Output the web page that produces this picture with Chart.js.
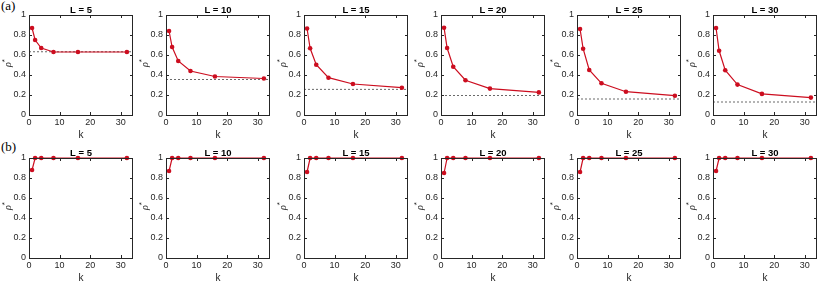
<!DOCTYPE html>
<html>
<head>
<meta charset="utf-8">
<script src="https://cdn.jsdelivr.net/npm/chart.js@4.4.1/dist/chart.umd.min.js"></script>
<style>
    body { margin: 0; background: #fff; width: 830px; height: 285px; position: relative; overflow: hidden; }
    canvas { position: absolute; }
    .tag { position: absolute; font-family: "Liberation Serif", "Times New Roman", serif; font-size: 13px; color: #000; }
</style>
</head>
<body>
<div class="tag" style="left:1px; top:-2px">(a)</div>
<div class="tag" style="left:1px; top:139px">(b)</div>
<script>
// k values on the x axis, one panel per L
const kValues = [1, 2, 4, 8, 16, 32];
const lValues = [5, 10, 15, 20, 25, 30];

// row (a): rho* against k, per L
const rhoL5  = [0.87, 0.75, 0.67, 0.63, 0.63, 0.63];
const rhoL10 = [0.84, 0.68, 0.54, 0.44, 0.385, 0.365];
const rhoL15 = [0.865, 0.667, 0.503, 0.373, 0.31, 0.273];
const rhoL20 = [0.873, 0.67, 0.483, 0.348, 0.264, 0.226];
const rhoL25 = [0.86, 0.663, 0.45, 0.317, 0.233, 0.193];
const rhoL30 = [0.87, 0.642, 0.448, 0.304, 0.211, 0.174];
// dashed reference level in row (a)
const dashedLevels = [0.632, 0.355, 0.257, 0.196, 0.16, 0.13];

// row (b)
const firstPointB = [0.88, 0.87, 0.86, 0.85, 0.86, 0.87];
const restB = [1, 1, 1, 1, 1];

const xTicks = [0, 10, 20, 30];
const yTicks = [0, 0.2, 0.4, 0.6, 0.8, 1];

const RED = '#cc0d1f';
const AX = '#262626';
const FONT = '"Liberation Sans", Arial, sans-serif';

const rowA = [rhoL5, rhoL10, rhoL15, rhoL20, rhoL25, rhoL30];
const rowB = firstPointB.map(v => [v].concat(restB));

const panelLeft = [29, 166, 304, 441, 577, 713];
const rowTop = [15, 158];
const boxW = 107;
const boxH = 100;

// box, inward ticks, panel title and the rho* label, MATLAB style
const axesBox = {
    id: 'axesBox',
    afterDraw(chart) {
        const {ctx, chartArea: a, scales} = chart;
        ctx.save();
        ctx.strokeStyle = AX;
        ctx.lineWidth = 1;
        ctx.strokeRect(Math.round(a.left) + 0.5, Math.round(a.top) + 0.5,
            Math.round(a.right - a.left) - 1, Math.round(a.bottom - a.top));
        ctx.beginPath();
        xTicks.forEach(t => {
            const x = Math.round(scales.x.getPixelForValue(t)) + 0.5;
            ctx.moveTo(x, a.bottom); ctx.lineTo(x, a.bottom - 3);
            ctx.moveTo(x, a.top); ctx.lineTo(x, a.top + 3);
        });
        yTicks.forEach(t => {
            const y = Math.round(scales.y.getPixelForValue(t)) + 0.5;
            ctx.moveTo(a.left, y); ctx.lineTo(a.left + 3, y);
            ctx.moveTo(a.right, y); ctx.lineTo(a.right - 3, y);
        });
        ctx.stroke();

        // title
        ctx.fillStyle = '#000';
        ctx.font = 'bold 9.5px ' + FONT;
        ctx.textAlign = 'center';
        ctx.textBaseline = 'bottom';
        ctx.fillText(chart.options.panelTitle, (a.left + a.right) / 2, a.top);

        // y label rho*
        ctx.translate(a.left - 21, (a.top + a.bottom) / 2 - 2);
        ctx.rotate(-Math.PI / 2);
        ctx.fillStyle = AX;
        ctx.textAlign = 'left';
        ctx.textBaseline = 'middle';
        ctx.font = 'italic 10px "Liberation Serif", serif';
        const w1 = ctx.measureText('ρ').width;
        ctx.font = '8px ' + FONT;
        const w2 = ctx.measureText('*').width;
        const x0 = -(w1 + w2) / 2;
        ctx.font = 'italic 10px "Liberation Serif", serif';
        ctx.fillText('ρ', x0, 0);
        ctx.font = '8px ' + FONT;
        ctx.fillText('*', x0 + w1, -3);
        ctx.restore();
    }
};

function makePanel(row, i) {
    const canvas = document.createElement('canvas');
    const w = 29 + boxW + 1;
    const h = 15 + boxH + 26;
    canvas.width = w;
    canvas.height = h;
    canvas.style.left = (panelLeft[i] - 29) + 'px';
    canvas.style.top = (rowTop[row] - 15) + 'px';
    document.body.appendChild(canvas);

    const vals = row === 0 ? rowA[i] : rowB[i];
    const datasets = [{
        data: kValues.map((k, j) => ({x: k, y: vals[j]})),
        borderColor: RED,
        backgroundColor: RED,
        pointBackgroundColor: RED,
        borderWidth: 1.2,
        pointRadius: 2.3,
        pointBorderWidth: 0,
        tension: 0,
        clip: false,
        order: 0
    }];
    if (row === 0) {
        datasets.push({
            data: [{x: 0, y: dashedLevels[i]}, {x: 34, y: dashedLevels[i]}],
            borderColor: '#444',
            borderWidth: 0.8,
            borderDash: [2, 2],
            pointRadius: 0,
            order: 1
        });
    }

    new Chart(canvas, {
        type: 'line',
        data: {datasets},
        options: {
            panelTitle: 'L = ' + lValues[i],
            responsive: false,
            animation: false,
            events: [],
            layout: {padding: {top: 15, right: 1, left: 0, bottom: 0}},
            plugins: {legend: {display: false}, tooltip: {enabled: false}},
            scales: {
                x: {
                    type: 'linear', min: 0, max: 34,
                    afterBuildTicks(s) { s.ticks = xTicks.map(v => ({value: v})); },
                    ticks: {padding: 2, color: AX, font: {family: FONT, size: 9}, maxRotation: 0,
                        callback: v => String(v)},
                    grid: {display: false, drawTicks: false},
                    border: {display: false},
                    title: {display: true, text: 'k', color: AX, font: {family: FONT, size: 10}, padding: 0},
                    afterFit(s) { s.height = 26; }
                },
                y: {
                    type: 'linear', min: 0, max: 1,
                    afterBuildTicks(s) { s.ticks = yTicks.map(v => ({value: v})); },
                    ticks: {padding: 3, color: AX, font: {family: FONT, size: 9},
                        callback: v => String(Math.round(v * 10) / 10)},
                    grid: {display: false, drawTicks: false},
                    border: {display: false},
                    afterFit(s) { s.width = 29; }
                }
            }
        },
        plugins: [axesBox]
    });
}

for (let r = 0; r < 2; r++) {
    for (let i = 0; i < 6; i++) makePanel(r, i);
}
</script>
</body>
</html>
